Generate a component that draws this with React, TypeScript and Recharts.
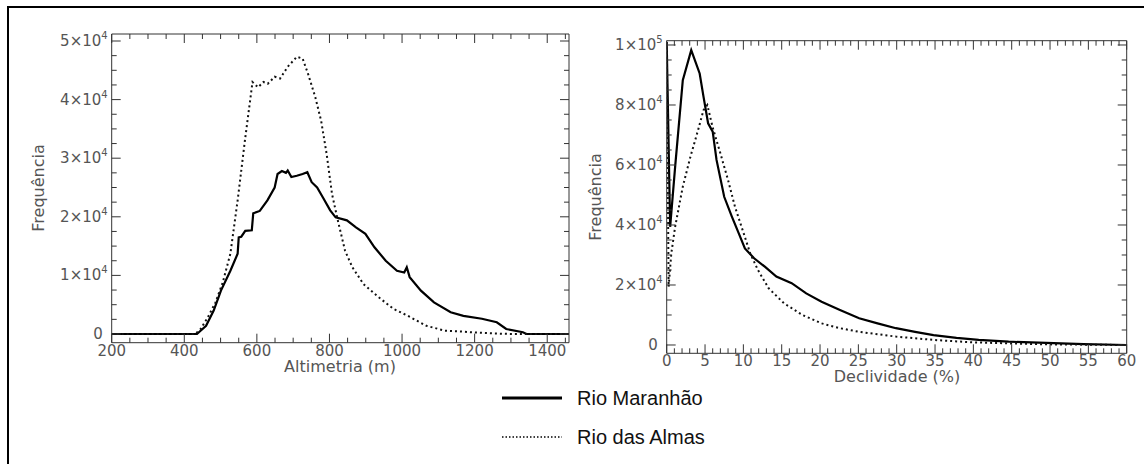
import { LineChart, Line, XAxis, YAxis } from "recharts"

// Altimetria (m) -> Frequência  [x, y]
const maranhaoAlt: [number, number][] = [
  [200, 0], [435, 0], [460, 1400], [481, 4000], [501, 7400], [527, 10800], [547, 13700],
  [550, 16500], [557, 16600], [568, 17600], [586, 17700], [590, 20600], [608, 21000],
  [629, 22800], [649, 25000], [657, 27300], [669, 27800], [680, 27500], [685, 27900],
  [695, 26800], [710, 27000], [726, 27300], [739, 27600], [751, 25900], [766, 25000],
  [782, 23300], [802, 21100], [817, 19900], [848, 19400], [873, 18200], [899, 17100],
  [924, 14800], [955, 12500], [986, 10800], [1006, 10500], [1013, 11400], [1021, 9700],
  [1052, 7400], [1088, 5400], [1134, 3700], [1169, 3100], [1220, 2600], [1261, 2000],
  [1287, 850], [1333, 300], [1343, 0], [1460, 0],
]
const almasAlt: [number, number][] = [
  [200, 0], [430, 0], [445, 850], [465, 2850], [486, 5400], [506, 8800], [527, 13700],
  [547, 22800], [567, 33000], [588, 43000], [603, 42100], [618, 43000], [630, 42700],
  [649, 43900], [664, 43600], [685, 45600], [710, 47300], [726, 47000], [741, 44400],
  [761, 40400], [777, 36400], [792, 30800], [807, 23900], [823, 19400], [843, 14200],
  [863, 11400], [894, 8500], [935, 6300], [976, 4300], [1016, 3100], [1067, 1400],
  [1118, 570], [1153, 460], [1189, 300], [1251, 100], [1300, 0], [1460, 0],
]

// Declividade (%) -> Frequência
const maranhaoDecl: [number, number][] = [
  [0, 101000], [0.45, 39400], [1.1, 59400], [2.1, 88300], [3.2, 98300], [4.3, 90500],
  [4.8, 82800], [5.4, 73900], [6.0, 71100], [6.5, 61700], [7.5, 49400], [8.5, 42800],
  [9.4, 37200], [10.2, 32200], [11.4, 28900], [12.8, 26100], [14.3, 22800], [16.3, 20600],
  [18.2, 17200], [20.2, 14400], [22.6, 11700], [25.1, 8900], [27.5, 7200], [29.9, 5600],
  [32.4, 4400], [34.8, 3300], [37.8, 2400], [40.7, 1700], [44.6, 1100], [49.5, 700],
  [54.4, 300], [60, 0],
]
const almasDecl: [number, number][] = [
  [0, 101000], [0.25, 19400], [0.6, 30500], [1.1, 39400], [2.1, 52800], [3.1, 62800],
  [4.1, 71700], [4.8, 78300], [5.3, 80000], [6.0, 72500], [7.0, 63900], [8.0, 55000],
  [8.9, 46100], [9.9, 38300], [10.9, 30500], [11.9, 25000], [13.3, 18900], [15.3, 13900],
  [17.7, 10000], [20.2, 7200], [22.6, 5600], [25.1, 4400], [27.5, 3600], [29.9, 2800],
  [34.8, 1700], [39.7, 900], [44.6, 550], [49.5, 220], [60, 0],
]

const altLabels = [200, 400, 600, 800, 1000, 1200, 1400]
const declLabels = [0, 5, 10, 15, 20, 25, 30, 35, 40, 45, 50, 55, 60]
const altFreqLabels = [
  { v: 0, m: "0", e: "" },
  { v: 10000, m: "1×10", e: "4" },
  { v: 20000, m: "2×10", e: "4" },
  { v: 30000, m: "3×10", e: "4" },
  { v: 40000, m: "4×10", e: "4" },
  { v: 50000, m: "5×10", e: "4" },
]
const declFreqLabels = [
  { v: 0, m: "0", e: "" },
  { v: 20000, m: "2×10", e: "4" },
  { v: 40000, m: "4×10", e: "4" },
  { v: 60000, m: "6×10", e: "4" },
  { v: 80000, m: "8×10", e: "4" },
  { v: 100000, m: "1×10", e: "5" },
]

const seriesNames = ["Rio Maranhão", "Rio das Almas"]

const toRows = (pts: [number, number][]) => pts.map(([x, y]) => ({ x, y }))
const steps = (from: number, to: number, step: number) => {
  const out: number[] = []
  for (let v = from; v <= to + 1e-9; v += step) out.push(Math.round(v * 1000) / 1000)
  return out
}

const tickColor = "#333"
const labelColor = "#555"
const tickFont = "'DejaVu Sans', Verdana, sans-serif"

function makeTick(side: string, majors: number[], yLabels?: { v: number; m: string; e: string }[]) {
  return (props: any) => {
    const { x, y, payload } = props
    const v = payload.value
    const major = majors.includes(v)
    const len = major ? 9 : 5
    if (side === "bottom") {
      return (
        <g>
          <line x1={x} x2={x} y1={y} y2={y - len} stroke={tickColor} />
          {major && (
            <text x={x} y={y + 13} textAnchor="middle" fontSize={15} fontFamily={tickFont} fill={labelColor}>
              {v}
            </text>
          )}
        </g>
      )
    }
    if (side === "top") return <line x1={x} x2={x} y1={y} y2={y + len} stroke={tickColor} />
    if (side === "right") return <line x1={x} x2={x - len} y1={y} y2={y} stroke={tickColor} />
    const lab = yLabels?.find((l) => l.v === v)
    return (
      <g>
        <line x1={x} x2={x + len} y1={y} y2={y} stroke={tickColor} />
        {lab && (
          <text x={x - (lab.e ? 4 : 9)} y={y + 5} textAnchor="end" fontSize={15} fontFamily={tickFont} fill={labelColor}>
            {lab.m}
            {lab.e && (
              <tspan dy={-7} fontSize={10}>
                {lab.e}
              </tspan>
            )}
          </text>
        )}
      </g>
    )
  }
}

function LegendBox() {
  return (
    <div style={{ position: "absolute", left: 502, top: 385, width: 260 }}>
      {seriesNames.map((name, i) => {
        const dotted = i === 1
        return (
          <div key={name} style={{ display: "flex", alignItems: "center", height: 26, marginBottom: 13 }}>
            <svg width={60} height={6}>
              <line x1={0} x2={60} y1={3} y2={3} stroke="#000" strokeWidth={dotted ? 1.5 : 2.8} strokeDasharray={dotted ? "1.5 2" : undefined} />
            </svg>
            <span style={{ marginLeft: 15, fontFamily: "'Liberation Sans', Arial, sans-serif", fontSize: 20, color: "#111" }}>
              {name}
            </span>
          </div>
        )
      })}
    </div>
  )
}

const axisLine = { stroke: tickColor, strokeWidth: 1 }

function Panel(props: {
  a: [number, number][]
  b: [number, number][]
  xDomain: [number, number]
  yDomain: [number, number]
  xTicks: number[]
  yTicks: number[]
  xMajors: number[]
  yMajors: number[]
  yLabels: { v: number; m: string; e: string }[]
  margin: { top: number; right: number; bottom: number; left: number }
}) {
  const { a, b, xDomain, yDomain, xTicks, yTicks, xMajors, yMajors, yLabels, margin } = props
  return (
    <LineChart width={1144} height={464} margin={margin}>
      <XAxis xAxisId="b" dataKey="x" type="number" domain={xDomain} allowDataOverflow ticks={xTicks} interval={0}
        tickSize={0} tickMargin={0} height={30} axisLine={axisLine} tickLine={false} tick={makeTick("bottom", xMajors)} />
      <XAxis xAxisId="t" orientation="top" dataKey="x" type="number" domain={xDomain} allowDataOverflow ticks={xTicks} interval={0}
        tickSize={0} tickMargin={0} height={10} axisLine={axisLine} tickLine={false} tick={makeTick("top", xMajors)} />
      <YAxis yAxisId="l" dataKey="y" type="number" domain={yDomain} allowDataOverflow ticks={yTicks} interval={0}
        tickSize={0} tickMargin={0} width={60} axisLine={axisLine} tickLine={false} tick={makeTick("left", yMajors, yLabels)} />
      <YAxis yAxisId="r" orientation="right" dataKey="y" type="number" domain={yDomain} allowDataOverflow ticks={yTicks} interval={0}
        tickSize={0} tickMargin={0} width={10} axisLine={axisLine} tickLine={false} tick={makeTick("right", yMajors)} />
      <Line xAxisId="b" yAxisId="l" data={toRows(a)} dataKey="y" name={seriesNames[0]} type="linear" stroke="#000"
        strokeWidth={2.2} dot={false} activeDot={false} isAnimationActive={false} />
      <Line xAxisId="b" yAxisId="l" data={toRows(b)} dataKey="y" name={seriesNames[1]} type="linear" stroke="#111"
        strokeWidth={2} strokeDasharray="2 3" dot={false} activeDot={false} isAnimationActive={false} />
    </LineChart>
  )
}

const titleStyle: React.CSSProperties = {
  position: "absolute",
  fontFamily: tickFont,
  fontSize: 16,
  color: labelColor,
  whiteSpace: "nowrap",
  lineHeight: "16px",
}

export default function App() {
  return (
    <div style={{ position: "absolute", left: 0, top: 0, width: 1144, height: 464, background: "#fff", overflow: "hidden" }}>
      <div style={{ position: "absolute", left: 7, top: 6, right: -4, bottom: -4, borderTop: "2px solid #000", borderLeft: "2px solid #000" }} />
      <div style={{ position: "absolute", left: 0, top: 0 }}>
        <Panel
          a={maranhaoAlt}
          b={almasAlt}
          xDomain={[200, 1460]}
          yDomain={[-1485, 51195]}
          xTicks={steps(200, 1450, 50)}
          yTicks={steps(0, 50000, 2500)}
          xMajors={altLabels}
          yMajors={altFreqLabels.map((l) => l.v)}
          yLabels={altFreqLabels}
          margin={{ top: 24, right: 565, bottom: 91.3, left: 51.7 }}
        />
      </div>
      <div style={{ position: "absolute", left: 0, top: 0 }}>
        <Panel
          a={maranhaoDecl}
          b={almasDecl}
          xDomain={[0, 60]}
          yDomain={[-2767, 101433]}
          xTicks={steps(0, 60, 1)}
          yTicks={steps(0, 100000, 5000)}
          xMajors={declLabels}
          yMajors={declFreqLabels.map((l) => l.v)}
          yLabels={declFreqLabels}
          margin={{ top: 30.7, right: 7.3, bottom: 80.7, left: 606.7 }}
        />
      </div>
      <LegendBox />
      <div style={{ ...titleStyle, left: 240, width: 200, textAlign: "center", top: 359 }}>Altimetria (m)</div>
      <div style={{ ...titleStyle, left: 797, width: 200, textAlign: "center", top: 369 }}>Declividade (%)</div>
      <div style={{ ...titleStyle, left: 39 - 60, top: 188 - 8, width: 120, textAlign: "center", transform: "rotate(-90deg)" }}>Frequência</div>
      <div style={{ ...titleStyle, left: 596 - 60, top: 197 - 8, width: 120, textAlign: "center", transform: "rotate(-90deg)" }}>Frequência</div>
    </div>
  )
}
